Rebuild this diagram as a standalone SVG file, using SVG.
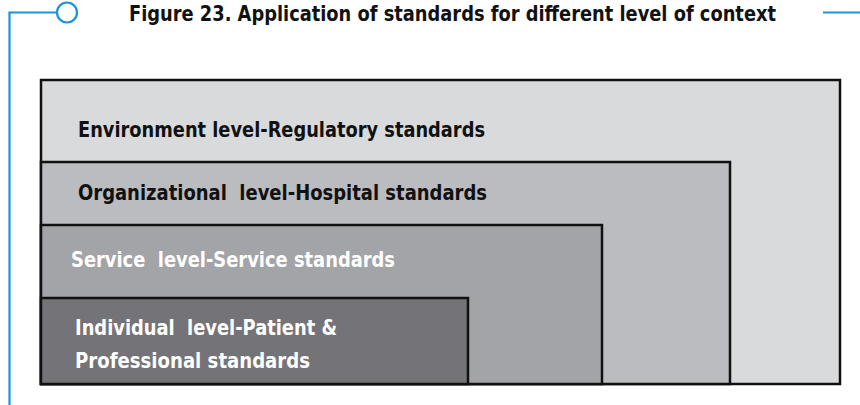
<svg xmlns="http://www.w3.org/2000/svg" width="860" height="405" viewBox="0 0 860 405">
  <style>
    .lvl { stroke: #111; stroke-width: 2.5; }
    .lbl { font-family: "DejaVu Sans", "Liberation Sans", sans-serif; font-stretch: condensed; font-weight: bold; font-size: 21px; white-space: pre; }
    .dark { fill: #111; }
    .light { fill: #fff; }
    .deco { stroke: #1a93d8; stroke-width: 2.2; fill: none; }
  </style>
  <rect width="860" height="405" fill="#fff"/>
  <g id="frame">
    <path class="deco" d="M9.5 405 V12.5 H56.5"/>
    <circle class="deco" cx="67" cy="12.5" r="10" fill="#fff"/>
    <path class="deco" d="M823 12.5 H860"/>
  </g>
  <text id="title" class="lbl dark" x="129" y="21" font-size="22" textLength="647" lengthAdjust="spacingAndGlyphs">Figure 23. Application of standards for different level of context</text>
  <g id="environment">
    <rect class="lvl" x="41" y="80" width="799" height="304" fill="#d9dadc"/>
    <text class="lbl dark" x="78" y="137" textLength="407" lengthAdjust="spacingAndGlyphs">Environment level-Regulatory standards</text>
  </g>
  <g id="organizational">
    <rect class="lvl" x="41" y="162" width="689" height="222" fill="#bbbcbf"/>
    <text class="lbl dark" x="78" y="200" textLength="409" lengthAdjust="spacingAndGlyphs" xml:space="preserve">Organizational  level-Hospital standards</text>
  </g>
  <g id="service">
    <rect class="lvl" x="41" y="225" width="561" height="159" fill="#a3a4a8"/>
    <text class="lbl light" x="71" y="267" textLength="324" lengthAdjust="spacingAndGlyphs" xml:space="preserve">Service  level-Service standards</text>
  </g>
  <g id="individual">
    <rect class="lvl" x="41" y="298" width="427" height="86" fill="#747377"/>
    <text class="lbl light" x="75" y="335" textLength="262" lengthAdjust="spacingAndGlyphs" xml:space="preserve">Individual  level-Patient &amp;</text>
    <text class="lbl light" x="75" y="368" textLength="235" lengthAdjust="spacingAndGlyphs">Professional standards</text>
  </g>
  <g id="connectors"/>
</svg>
